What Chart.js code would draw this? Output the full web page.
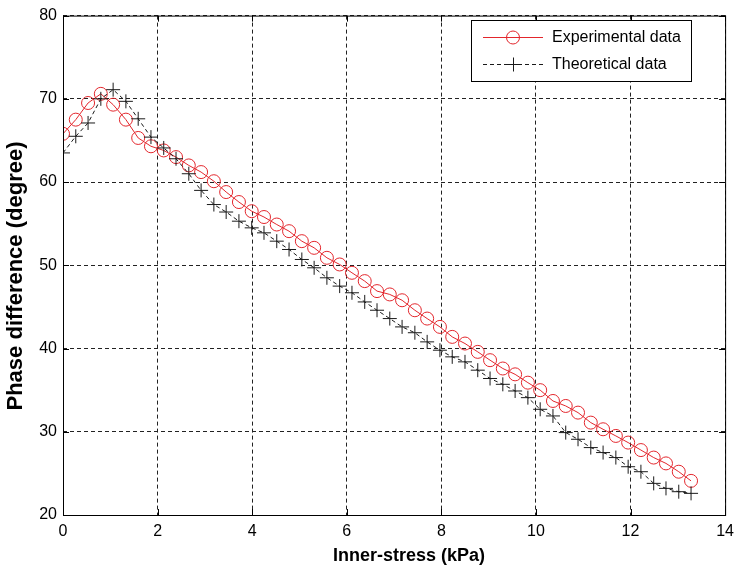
<!DOCTYPE html>
<html>
<head>
<meta charset="utf-8">
<script src="https://cdn.jsdelivr.net/npm/chart.js@4/dist/chart.umd.min.js"></script>
<style>
  html, body { margin: 0; padding: 0; background: #fff; }
  #wrap { width: 741px; height: 573px; }
</style>
</head>
<body>
<div id="wrap"><canvas id="chart" width="741" height="573"></canvas></div>
<script>
/* Phase difference vs inner-stress: experimental vs theoretical. */
const xValues = [0, 0.27, 0.53, 0.8, 1.06, 1.33, 1.59, 1.86, 2.13, 2.39,
  2.66, 2.92, 3.19, 3.45, 3.72, 3.99, 4.25, 4.52, 4.78, 5.05,
  5.31, 5.58, 5.85, 6.11, 6.38, 6.64, 6.91, 7.17, 7.44, 7.7,
  7.97, 8.23, 8.5, 8.77, 9.03, 9.3, 9.56, 9.83, 10.09, 10.36,
  10.63, 10.89, 11.16, 11.42, 11.69, 11.95, 12.22, 12.49, 12.75, 13.02,
  13.28];
const experimental = [65.8, 67.5, 69.5, 70.6, 69.3, 67.5, 65.3, 64.3, 63.8, 63.0,
  62.0, 61.2, 60.1, 58.8, 57.6, 56.5, 55.8, 54.9, 54.1, 52.9,
  52.1, 50.9, 50.1, 49.1, 48.1, 46.9, 46.5, 45.8, 44.6, 43.6,
  42.6, 41.4, 40.6, 39.6, 38.6, 37.6, 36.9, 35.9, 35.0, 33.7,
  33.1, 32.3, 31.1, 30.3, 29.5, 28.7, 27.8, 26.9, 26.2, 25.2,
  24.1];
const theoretical = [63.5, 65.5, 67.1, 70.0, 71.1, 69.7, 67.6, 65.4, 64.1, 62.8,
  61.0, 59.0, 57.3, 56.4, 55.3, 54.5, 53.9, 52.9, 51.9, 50.7,
  49.7, 48.5, 47.5, 46.7, 45.6, 44.6, 43.6, 42.6, 41.9, 40.8,
  39.8, 39.0, 38.4, 37.4, 36.4, 35.7, 34.9, 34.1, 32.7, 31.9,
  29.9, 29.1, 28.1, 27.5, 26.9, 25.8, 25.2, 23.8, 23.2, 22.8,
  22.6];
const seriesNames = ["Experimental data", "Theoretical data"];
const xTicks = [0, 2, 4, 6, 8, 10, 12, 14];
const yTicks = [20, 30, 40, 50, 60, 70, 80];
const xTitle = "Inner-stress (kPa)";
const yTitle = "Phase difference (degree)";

const FONT = "'Liberation Sans', Arial, Helvetica, sans-serif";
const RED = "#e3262c";
const BLACK = "#1a1a1a";

function pts(ys) {
  return xValues.map((x, i) => ({ x: x, y: ys[i] }));
}

// Box, inner ticks, axis titles and the legend (MATLAB look).
const frame = {
  id: "frame",
  afterDraw(chart) {
    const { ctx, chartArea: a, scales } = chart;
    ctx.save();
    ctx.strokeStyle = "#000";
    ctx.lineWidth = 1;
    ctx.setLineDash([]);
    ctx.strokeRect(a.left + 0.5, a.top + 0.5, a.right - a.left, a.bottom - a.top);
    ctx.beginPath();
    xTicks.forEach((t) => {
      const px = Math.round(scales.x.getPixelForValue(t)) + 0.5;
      ctx.moveTo(px, a.bottom); ctx.lineTo(px, a.bottom - 6);
      ctx.moveTo(px, a.top); ctx.lineTo(px, a.top + 6);
    });
    yTicks.forEach((t) => {
      const py = Math.round(scales.y.getPixelForValue(t)) + 0.5;
      ctx.moveTo(a.left, py); ctx.lineTo(a.left + 6, py);
      ctx.moveTo(a.right, py); ctx.lineTo(a.right - 6, py);
    });
    ctx.stroke();

    // axis titles
    ctx.fillStyle = "#000";
    ctx.font = "bold 18px " + FONT;
    ctx.textAlign = "center";
    ctx.textBaseline = "middle";
    ctx.fillText(xTitle, 409, 556);
    ctx.save();
    ctx.translate(16, 276);
    ctx.rotate(-Math.PI / 2);
    ctx.font = "bold 22px " + FONT;
    ctx.fillText(yTitle, 0, 0);
    ctx.restore();

    // legend
    const lx = 471.5, ly = 20.5, lw = 220, lh = 61;
    ctx.fillStyle = "#fff";
    ctx.fillRect(lx, ly, lw, lh);
    ctx.strokeStyle = "#000";
    ctx.strokeRect(lx, ly, lw, lh);
    const rows = [
      { y: 37, color: RED, dash: [], marker: "circle" },
      { y: 64, color: BLACK, dash: [4, 3], marker: "cross" },
    ];
    rows.forEach((r, i) => {
      ctx.strokeStyle = r.color;
      ctx.lineWidth = 1;
      ctx.setLineDash(r.dash);
      ctx.beginPath();
      ctx.moveTo(483, r.y + 0.5); ctx.lineTo(543, r.y + 0.5);
      ctx.stroke();
      ctx.setLineDash([]);
      ctx.beginPath();
      if (r.marker === "circle") {
        ctx.arc(513, r.y + 0.5, 6.5, 0, Math.PI * 2);
      } else {
        ctx.moveTo(513.5, r.y - 6.5); ctx.lineTo(513.5, r.y + 7.5);
        ctx.moveTo(506.5, r.y + 0.5); ctx.lineTo(520.5, r.y + 0.5);
      }
      ctx.stroke();
      ctx.fillStyle = "#000";
      ctx.font = "16px " + FONT;
      ctx.textAlign = "left";
      ctx.fillText(seriesNames[i], 552, r.y + 1);
    });
    ctx.restore();
  },
};

new Chart(document.getElementById("chart"), {
  type: "line",
  data: {
    datasets: [
      {
        label: seriesNames[0],
        data: pts(experimental),
        borderColor: RED,
        borderWidth: 1,
        pointStyle: "circle",
        pointRadius: 6.5,
        pointBorderColor: RED,
        pointBackgroundColor: "rgba(0,0,0,0)",
        pointBorderWidth: 1,
        tension: 0,
        order: 1,
      },
      {
        label: seriesNames[1],
        data: pts(theoretical),
        borderColor: BLACK,
        borderWidth: 1,
        borderDash: [4, 3],
        pointStyle: "cross",
        pointRadius: 7,
        pointBorderColor: BLACK,
        pointBorderWidth: 1,
        tension: 0,
        order: 0,
      },
    ],
  },
  options: {
    responsive: false,
    animation: false,
    layout: { padding: { top: 10, right: 9, left: 0, bottom: 0 } },
    plugins: { legend: { display: false }, tooltip: { enabled: false } },
    scales: {
      x: {
        type: "linear",
        min: 0,
        max: 14,
        afterFit: (s) => { s.height = 58; },
        afterBuildTicks: (s) => { s.ticks = xTicks.map((v) => ({ value: v })); },
        grid: { color: "#222", lineWidth: 1, drawTicks: false },
        border: { display: false, dash: [4, 3] },
        ticks: { color: "#000", padding: 7, font: { family: FONT, size: 16 } },
      },
      y: {
        type: "linear",
        min: 20,
        max: 80,
        afterFit: (s) => { s.width = 63; },
        afterBuildTicks: (s) => { s.ticks = yTicks.map((v) => ({ value: v })); },
        grid: { color: "#222", lineWidth: 1, drawTicks: false },
        border: { display: false, dash: [4, 3] },
        ticks: { color: "#000", padding: 6, font: { family: FONT, size: 16 } },
      },
    },
  },
  plugins: [frame],
});
</script>
</body>
</html>
